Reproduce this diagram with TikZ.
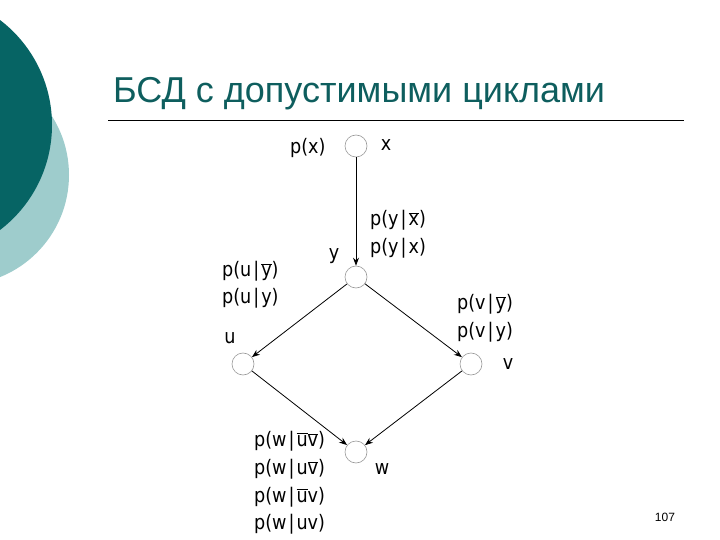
\documentclass[tikz,border=0pt]{standalone}
\usepackage{fontspec}
\setmainfont{Liberation Sans}
\newfontfamily\lblfont[FakeStretch=0.88]{DejaVu Sans}
\usetikzlibrary{arrows.meta}
\definecolor{darkteal}{HTML}{066464}
\definecolor{lightteal}{HTML}{9ECCCC}
\definecolor{titleteal}{HTML}{0E5E5E}
\newcommand\ovl[1]{\ensuremath{\overline{\hbox{#1}}}}
\newcommand\bb{\kern2bp|\kern2bp}
\tikzset{
  vertex/.style={circle,draw=gray!80,line width=0.6bp,minimum size=22bp,inner sep=0pt,fill=white},
  lbl/.style={inner sep=0pt,font=\fontsize{20bp}{24bp}\lblfont},
  edge/.style={line width=0.8bp,-{Stealth[length=8bp,width=6bp]}},
}
\begin{document}
\begin{tikzpicture}[x=1bp,y=-1bp]
\useasboundingbox (0,0) rectangle (720,540);
% decoration
\fill[lightteal] (-41,175) circle (110);
\fill[darkteal] (-80,125) circle (132);
% title
\node[anchor=base west,inner sep=0pt,text=titleteal,font=\fontsize{36bp}{42bp}\selectfont] (title) at (113,103) {БСД с допустимыми циклами};
\draw[line width=0.8bp] (108,120) -- (684,120);
% nodes
\node[vertex] (x) at (356,146) {};
\node[vertex] (y) at (356,277) {};
\node[vertex] (u) at (243,364) {};
\node[vertex] (v) at (471,364) {};
\node[vertex] (w) at (356,452) {};
% edges
\draw[edge] (x) -- (y);
\draw[edge] (y) -- (u);
\draw[edge] (y) -- (v);
\draw[edge] (u) -- (w);
\draw[edge] (v) -- (w);
% labels
\node[lbl,anchor=west] (lpx) at (290,148) {p(x)};
\node[lbl] (lx) at (386,145) {x};
\node[lbl,anchor=west] (lyx1) at (370,220) {p(y\bb\ovl{x})};
\node[lbl,anchor=west] (lyx2) at (370,248) {p(y\bb x)};
\node[lbl] (ly) at (334,256) {y};
\node[lbl,anchor=west] (luy1) at (222,271) {p(u\bb\ovl{y})};
\node[lbl,anchor=west] (luy2) at (222,298) {p(u\bb y)};
\node[lbl] (lu) at (230,338) {u};
\node[lbl,anchor=west] (lvy1) at (457,304) {p(v\bb\ovl{y})};
\node[lbl,anchor=west] (lvy2) at (457,332) {p(v\bb y)};
\node[lbl] (lv) at (508,364) {v};
\node[lbl] (lw) at (382,469) {w};
\node[lbl,anchor=west] (lw1) at (254,441) {p(w\bb\ovl{u}\ovl{v})};
\node[lbl,anchor=west] (lw2) at (254,469) {p(w\bb u\ovl{v})};
\node[lbl,anchor=west] (lw3) at (254,497) {p(w\bb\ovl{u}v)};
\node[lbl,anchor=west] (lw4) at (254,524) {p(w\bb uv)};
\node[inner sep=0pt,font=\fontsize{12bp}{14bp}\selectfont] (pg) at (665,517) {107};
\end{tikzpicture}
\end{document}
